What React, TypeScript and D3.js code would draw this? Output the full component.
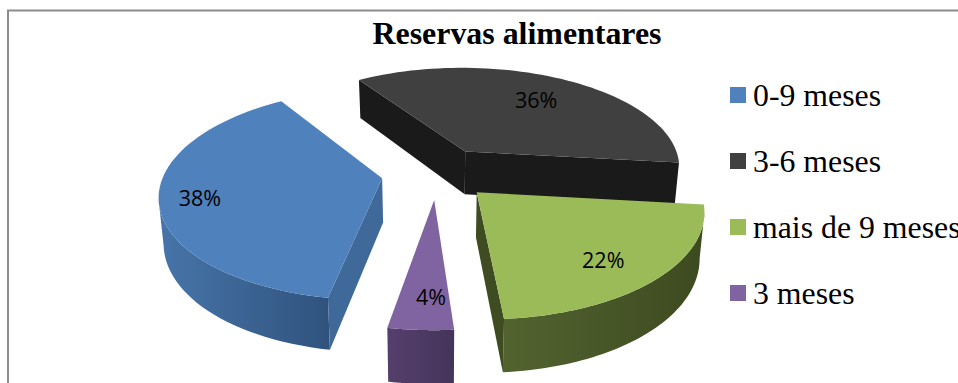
import React from "react";
import * as d3 from "d3";

// Reserve durations and their share of responses
const categories = ["0-9 meses", "3-6 meses", "mais de 9 meses", "3 meses"];
const shares = [38, 36, 22, 4];
const topColors = ["#4f81bd", "#404040", "#9bbb59", "#8064a2"];
const wallLeftColors = ["#4775a9", "#1a1a1a", "#52632f", "#553f6c"];
const wallRightColors = ["#30537e", "#1a1a1a", "#3d4a20", "#45345a"];
const faceColors = ["#3f6998", "#1a1a1a", "#3f4c22", "#4a3860"];
const labelReach = [0.82, 0.72, 0.75, 0.76];
const labelTurn = [0, 0, 2, -2];
const title = "Reservas alimentares";

const W = 958;
const H = 383;

// Projection of the tilted pie plane: unit radius, y pointing away from the viewer
const cx = 437;
const cy = 173;
const rx = 218;
const ry = 102;
const tilt = 0.148;
const depth = 44;
const bottomNarrowing = 0.982;
const explode = 0.255;
const rad = Math.PI / 180;

type P = [number, number];
const persp = (y: number) => 1 / (1 + tilt * y);
const project = (x: number, y: number): P => {
  const s = persp(y);
  return [cx + rx * x * s, cy - ry * y * s];
};
const lower = (x: number, y: number): P => {
  const [px, py] = project(x, y);
  return [cx + (px - cx) * bottomNarrowing, py + depth * persp(y)];
};

const pieGen = d3
  .pie<number>()
  .sort(null)
  .startAngle(190 * rad)
  .endAngle(550 * rad);
const arcs = pieGen(shares);

const line = d3.line<P>();

const legendY = d3
  .scalePoint<string>()
  .domain(categories)
  .range([95, 293]);

export default function App() {
  const slices = arcs.map((a, i) => {
    const mid = (a.startAngle + a.endAngle) / 2;
    const ax = explode * Math.sin(mid);
    const ay = explode * Math.cos(mid);
    const rim = d3.range(0, 61).map((k) => {
      const t = a.startAngle + ((a.endAngle - a.startAngle) * k) / 60;
      return [ax + Math.sin(t), ay + Math.cos(t)] as P;
    });
    const apex: P = [ax, ay];
    const outline: P[] = [apex, ...rim];

    const quad = (p: P, q: P) =>
      line([project(p[0], p[1]), project(q[0], q[1]), lower(q[0], q[1]), lower(p[0], p[1])])! + "Z";
    // An edge running right to left on this clockwise outline faces the viewer
    const faces = (p: P, q: P) => project(q[0], q[1])[0] < project(p[0], p[1])[0];

    const flatFaces: string[] = [];
    if (faces(apex, rim[0])) flatFaces.push(quad(apex, rim[0]));
    if (faces(rim[rim.length - 1], apex)) flatFaces.push(quad(rim[rim.length - 1], apex));

    const front = rim.filter(
      (p, k) =>
        (k < rim.length - 1 && faces(p, rim[k + 1])) || (k > 0 && faces(rim[k - 1], p))
    );
    const wall =
      front.length > 1
        ? line([
            ...front.map((p) => project(p[0], p[1])),
            ...front
              .slice()
              .reverse()
              .map((p) => lower(p[0], p[1])),
          ])! + "Z"
        : null;
    const span = d3.extent(front, (p) => project(p[0], p[1])[0]) as [number, number];

    const labelAngle = mid + labelTurn[i] * rad;
    const lp = project(
      ax + labelReach[i] * Math.sin(labelAngle),
      ay + labelReach[i] * Math.cos(labelAngle)
    );
    return {
      i,
      flatFaces,
      wall,
      span,
      top: line(outline.map((p) => project(p[0], p[1])))! + "Z",
      label: lp,
      text: `${shares[i]}%`,
    };
  });

  // Painter's order: rear slice first, nearest slices last
  const order = [1, 0, 3, 2];

  return (
    <svg
      width={W}
      height={H}
      viewBox={`0 0 ${W} ${H}`}
      style={{ position: "absolute", left: 0, top: 0, display: "block", background: "#fff" }}
    >
      <defs>
        {slices.map((s) => (
          <linearGradient
            key={s.i}
            id={`wall-${s.i}`}
            gradientUnits="userSpaceOnUse"
            x1={s.span[0]}
            x2={s.span[1]}
            y1={0}
            y2={0}
          >
            <stop offset="0" stopColor={wallLeftColors[s.i]} />
            <stop offset="1" stopColor={wallRightColors[s.i]} />
          </linearGradient>
        ))}
      </defs>

      <path d={`M8 ${H}V10.5H${W}`} fill="none" stroke="#8c8c8c" strokeWidth={2} />
      <text
        x={517}
        y={44}
        textAnchor="middle"
        fontFamily="'Liberation Serif', serif"
        fontWeight="bold"
        fontSize={31.9}
        fill="#000"
      >
        {title}
      </text>

      {order.map((idx) => {
        const s = slices[idx];
        return (
          <g key={idx}>
            {s.wall && <path d={s.wall} fill={`url(#wall-${idx})`} />}
            {s.flatFaces.map((d, k) => (
              <path key={k} d={d} fill={faceColors[idx]} />
            ))}
            <path d={s.top} fill={topColors[idx]} />
          </g>
        );
      })}

      {slices.map((s) => (
        <text
          key={s.i}
          x={s.label[0]}
          y={s.label[1] + 3}
          dy="0.35em"
          textAnchor="middle"
          fontFamily="'Open Sans', sans-serif"
          fontSize={21.5}
          fill="#000"
        >
          {s.text}
        </text>
      ))}

      {categories.map((c, i) => {
        const y = legendY(c)!;
        return (
          <g key={c}>
            <rect x={730} y={y - 8} width={16} height={16} fill={topColors[i]} />
            <text
              x={753}
              y={y + 11}
              fontFamily="'Liberation Serif', serif"
              fontSize={31.8}
              fill="#000"
            >
              {c}
            </text>
          </g>
        );
      })}
    </svg>
  );
}
